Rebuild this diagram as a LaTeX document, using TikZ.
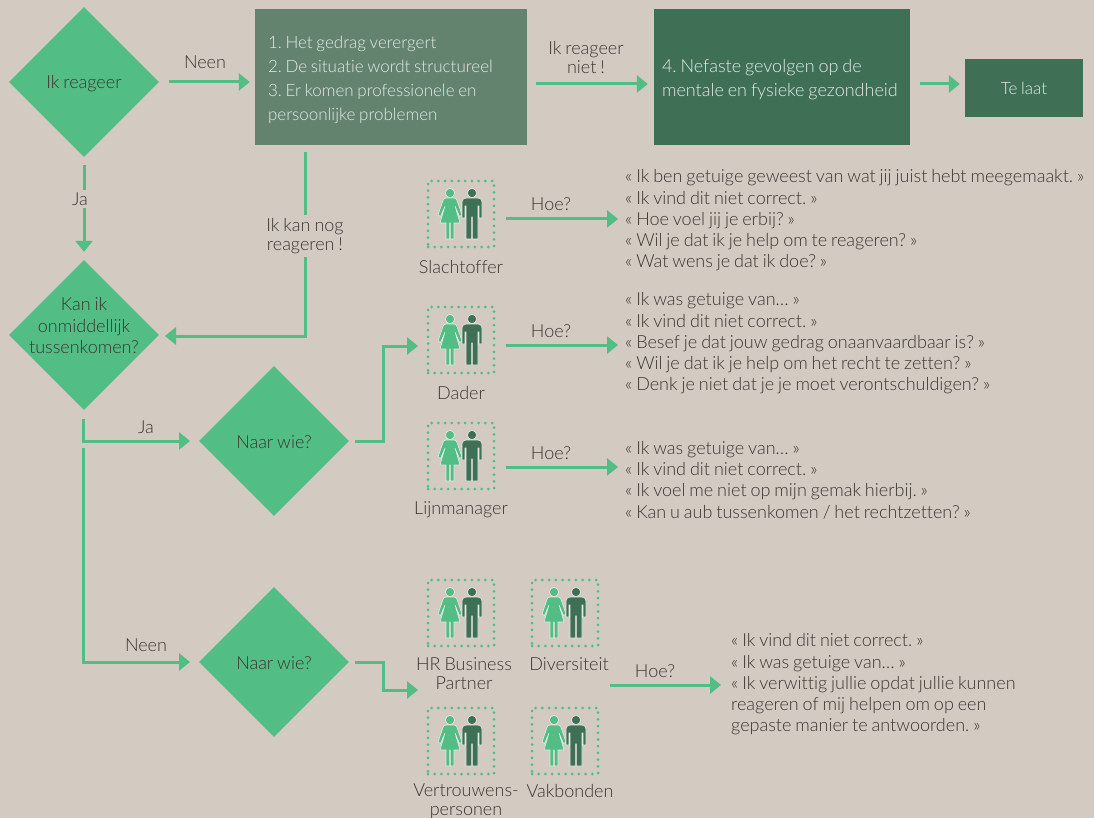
\documentclass[tikz,border=0pt]{standalone}
\usepackage{fontspec}
\setmainfont{Lato Light}[WordSpace=0.8,Ligatures=NoCommon]
\usetikzlibrary{shapes.geometric,arrows.meta,calc}
\definecolor{bgc}{HTML}{D3CAC1}
\definecolor{gr}{HTML}{52BD84}
\definecolor{dk}{HTML}{3F7055}
\definecolor{md}{HTML}{63836F}
\definecolor{txt}{HTML}{3A3533}
\definecolor{halo}{HTML}{E4EBE4}
\tikzset{
 dia/.style={diamond,aspect=1,fill=gr,minimum width=150pt,minimum height=150pt,inner sep=0pt},
 stepbox/.style={rectangle,inner sep=0pt,text=halo,align=flush left,font=\frenchspacing\fontsize{18}{24}\selectfont},
 arr/.style={draw=gr,line width=3pt,-{Triangle[length=11pt,width=17pt]}},
 lbl/.style={text=txt,align=center,font=\frenchspacing\fontsize{18}{19}\selectfont,inner sep=1pt},
 dlbl/.style={lbl,font=\frenchspacing\fontsize{18}{21.5}\selectfont},
 quote/.style={text=txt,align=left,anchor=west,inner sep=0pt,font=\frenchspacing\fontsize{18}{21.3}\selectfont},
 pbox/.style={rectangle,minimum width=66pt,minimum height=66pt,inner sep=0pt,draw=gr,line width=3pt,line cap=round,dash pattern=on 0pt off 6.7pt},
 pics/couple/.style={code={
  \begin{scope}[draw=halo,line width=.6pt]
  \filldraw[fill=gr] (-11,-21) circle (4.6);
  \filldraw[fill=gr] (-15,-16) -- (-7,-16) .. controls (-5.5,-16) and (-4.5,-15) .. (-4,-13.5) -- (1,1) -- (-1.5,2.5) -- (-6,-8) -- (-1,9) -- (-7,9) -- (-7,25) -- (-10.7,25) -- (-10.7,9) -- (-11.3,9) -- (-11.3,25) -- (-15,25) -- (-15,9) -- (-21,9) -- (-16,-8) -- (-20.5,2.5) -- (-23,1) -- (-18,-13.5) .. controls (-17.5,-15) and (-16.5,-16) .. (-15,-16) -- cycle;
  \filldraw[fill=dk] (11,-21) circle (4.6);
  \filldraw[fill=dk] (5,-16) -- (17,-16) .. controls (19.5,-16) and (21,-14) .. (21,-12) -- (21,4) -- (18,4) -- (18,-8) -- (17,-8) -- (17,25) -- (11.4,25) -- (11.4,3) -- (10.6,3) -- (10.6,25) -- (5,25) -- (5,-8) -- (4,-8) -- (4,4) -- (1,4) -- (1,-12) .. controls (1,-14) and (2.5,-16) .. (5,-16) -- cycle;
  \end{scope}
 }}
}
\begin{document}
\begin{tikzpicture}[x=1pt,y=-1pt]
\useasboundingbox[fill=bgc] (0,0) rectangle (1094,818);
% decisions
\node[dia] (d1) at (84,82) {};
\node[dia] (d2) at (84,335) {};
\node[dia] (d3) at (274,441) {};
\node[dia] (d4) at (274,662) {};
\node[dlbl] at (84,83.5) {Ik reageer};
\node[dlbl] at (84,326) {Kan ik\\onmiddellijk\\tussenkomen?};
\node[dlbl] at (274,442) {Naar wie?};
\node[dlbl] at (274,663) {Naar wie?};
% boxes
\node[stepbox,fill=md,minimum width=272pt,minimum height=136pt,text width=246pt,font=\frenchspacing\fontsize{17}{24}\selectfont] (b1) at (391,77) {\rule{0pt}{19pt}1. Het gedrag verergert\\2. De situatie wordt structureel\\3. Er komen professionele en\\persoonlijke problemen};
\node[stepbox,fill=dk,minimum width=256pt,minimum height=136pt,text width=240pt] (b2) at (782,77) {\rule{0pt}{18pt}4. Nefaste gevolgen op de\\mentale en fysieke gezondheid};
\node[stepbox,fill=dk,minimum width=118pt,minimum height=58pt,align=center,font=\frenchspacing\fontsize{17}{24}\selectfont] (b3) at (1024,88) {Te laat};
% people
\node[pbox] (p1) at (461,214) {}; \pic at (p1) {couple};
\node[pbox] (p2) at (461,340) {}; \pic at (p2) {couple};
\node[pbox] (p3) at (461,456) {}; \pic at (p3) {couple};
\node[pbox] (p4) at (461,613) {}; \pic at (p4) {couple};
\node[pbox] (p5) at (565,613) {}; \pic at (p5) {couple};
\node[pbox] (p6) at (461,741) {}; \pic at (p6) {couple};
\node[pbox] (p7) at (565,741) {}; \pic at (p7) {couple};
\node[lbl] (n1) at (461,267) {Slachtoffer};
\node[lbl] (n2) at (461,393) {Dader};
\node[lbl] (n3) at (461,510) {Lijnmanager};
\node[lbl] (n4) at (464,673.5) {HR Business\\Partner};
\node[lbl] (n5) at (569,664) {Diversiteit};
\node[lbl] (n6) at (466,801) {Vertrouwens-\\personen};
\node[lbl] (n7) at (570,791) {Vakbonden};
% quotes
\node[quote] (q1) at (625,220.5) {« Ik ben getuige geweest van wat jij juist hebt meegemaakt. »\\« Ik vind dit niet correct. »\\« Hoe voel jij je erbij? »\\« Wil je dat ik je help om te reageren? »\\« Wat wens je dat ik doe? »};
\node[quote] (q2) at (625,343.5) {« Ik was getuige van… »\\« Ik vind dit niet correct. »\\« Besef je dat jouw gedrag onaanvaardbaar is? »\\« Wil je dat ik je help om het recht te zetten? »\\« Denk je niet dat je je moet verontschuldigen? »};
\node[quote] (q3) at (625,480) {« Ik was getuige van… »\\« Ik vind dit niet correct. »\\« Ik voel me niet op mijn gemak hierbij. »\\« Kan u aub tussenkomen / het rechtzetten? »};
\node[quote] (q4) at (731,684.5) {« Ik vind dit niet correct. »\\« Ik was getuige van… »\\« Ik verwittig jullie opdat jullie kunnen\\reageren of mij helpen om op een\\gepaste manier te antwoorden. »};
% connector rows
\coordinate (r1) at (0,219);
\coordinate (r2) at (0,345);
\coordinate (r3) at (0,467);
\coordinate (r4) at (0,685);
\coordinate (t1) at (0,84);
\coordinate (k1) at (305,336);
\coordinate (e3) at (383,441);
\coordinate (e3b) at (383,346);
\coordinate (e4) at (383,662);
\coordinate (e4b) at (383,690);
\coordinate (j1) at (83,441);
\coordinate (j2) at (83,662);
\coordinate (js1) at (83,419);
\coordinate (js2) at (83,448);
% connectors
\draw[arr,shorten <=10pt,shorten >=5pt] (d1.east) -- (b1.west |- d1.east);
\draw[arr,shorten <=9pt,shorten >=6pt] (b1.east |- t1) -- (b2.west |- t1);
\draw[arr,shorten <=10pt,shorten >=5pt] (b2.east |- t1) -- (b3.west |- t1);
\draw[arr,shorten <=8pt,shorten >=8pt] (d1.south) -- (d2.north);
\draw[arr,shorten <=7pt] (b1.south -| k1) -- (k1) -- (165,336);
\draw[arr] (js1) -- (j1) -- (190,441);
\draw[arr] (js2) -- (j2) -- (190,662);
\draw[arr,shorten <=6pt] (d3.east) -- (e3) -- (e3b) -- (418,346);
\draw[arr,shorten <=6pt] (d4.east) -- (e4) -- (e4b) -- (418,690);
\draw[arr,shorten <=10pt,shorten >=7pt] (p1.east |- r1) -- (q1.west |- r1);
\draw[arr,shorten <=10pt,shorten >=7pt] (p2.east |- r2) -- (q2.west |- r2);
\draw[arr,shorten <=10pt,shorten >=7pt] (p3.east |- r3) -- (q3.west |- r3);
\draw[arr,shorten <=10pt,shorten >=10pt] (p5.east |- r4) -- (q4.west |- r4);
% edge labels
\node[lbl] at (205,62) {Neen};
\node[lbl] at (586,58) {Ik reageer\\niet !};
\node[lbl,fill=bgc,inner sep=3pt] at (80,199) {Ja};
\node[lbl,fill=bgc,inner ysep=3pt] at (305,236) {Ik kan nog\\reageren !};
\node[lbl] at (146,427) {Ja};
\node[lbl] at (146,645) {Neen};
\node[lbl] at (551,204) {Hoe?};
\node[lbl] at (551,331) {Hoe?};
\node[lbl] at (551,453) {Hoe?};
\node[lbl] at (655,671) {Hoe?};
\end{tikzpicture}
\end{document}
